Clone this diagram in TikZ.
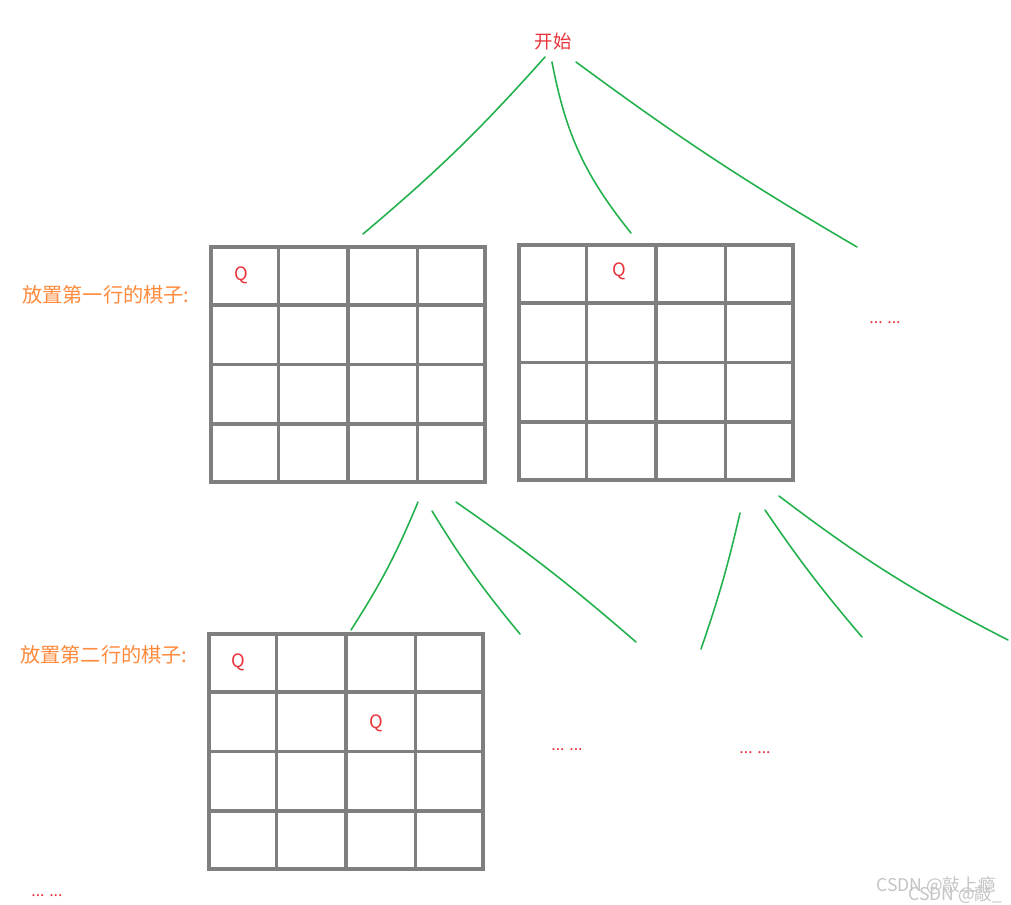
\documentclass[tikz,border=0pt]{standalone}
\usepackage{fontspec}
\setmainfont{Noto Sans CJK SC}
\usetikzlibrary{positioning,calc}
\definecolor{boardgray}{HTML}{7F7F7F}
\definecolor{queenred}{HTML}{E8333B}
\definecolor{labelorange}{HTML}{FF8A3D}
\definecolor{treegreen}{HTML}{22B14C}
\definecolor{markgray}{HTML}{C4C4C4}

\tikzset{
  board/.style={draw=boardgray, line width=2.1pt, minimum width=5.48cm, minimum height=4.7cm, inner sep=0pt},
  boardline/.style={boardgray, line width=2.1pt},
  queen/.style={text=queenred, font=\fontsize{10.5}{12}\selectfont},
  rowlabel/.style={text=labelorange, font=\fontsize{11.5}{13}\selectfont, anchor=west, inner sep=0pt},
  branch/.style={treegreen, line width=0.9pt, line cap=round},
  more/.style={text=queenred, font=\fontsize{9}{11}\selectfont}
}

\begin{document}
\begin{tikzpicture}[x=0.02cm, y=-0.02cm]
\useasboundingbox (0,0) rectangle (1011,904);

% root
\node[text=queenred, font=\fontsize{10.5}{12}\selectfont] (start) at (553,42) {开始};

% boards
\node[board] (b1) at (348,364.5) {};
\node[board] (b2) at (656,362.5) {};
\node[board] (b3) at (346,751.5) {};
\foreach \b in {b1,b2,b3} {
  \foreach \k in {1,2,3} {
    \draw[boardline] ($(\b.north west)!\k/4!(\b.north east)$) -- ($(\b.south west)!\k/4!(\b.south east)$);
    \draw[boardline] ($(\b.north west)!\k/4!(\b.south west)$) -- ($(\b.north east)!\k/4!(\b.south east)$);
  }
}

% queens
\node[queen] (q1) at ($(b1.north west)+(32,30)$) {Q};
\node[queen] (q2) at ($(b2.north west)+(102,28)$) {Q};
\node[queen] (q3) at ($(b3.north west)+(31,30)$) {Q};
\node[queen] (q4) at ($(b3.north west)+(169,91)$) {Q};

% labels
\node[rowlabel] (row1) at (22,295) {放置第一行的棋子:};
\node[rowlabel] (row2) at (20,655) {放置第二行的棋子:};

% branch ends
\coordinate (t1) at (545,57);
\coordinate (t2) at (552,62);
\coordinate (t3) at (576,62);
\coordinate (e1) at (363,234);
\coordinate (e2) at (631,233);
\coordinate (e3) at (857,247);
\coordinate (s1) at (418,502);
\coordinate (s2) at (432,511);
\coordinate (s3) at (456,502);
\coordinate (f1) at (351,630);
\coordinate (f2) at (520,634);
\coordinate (f3) at (636,642);
\coordinate (u1) at (740,513);
\coordinate (u2) at (765,510);
\coordinate (u3) at (779,496);
\coordinate (g1) at (701,649);
\coordinate (g2) at (862,637);
\coordinate (g3) at (1008,640);

% branches
\draw[branch] (t1) to[bend left=4] (e1);
\draw[branch] (t2) to[bend right=14] (e2);
\draw[branch] (t3) to[bend right=3] (e3);
\draw[branch] (s1) to[bend left=5] (f1);
\draw[branch] (s2) to[bend right=4] (f2);
\draw[branch] (s3) to[bend left=3] (f3);
\draw[branch] (u1) to[bend left=3] (g1);
\draw[branch] (u2) to[bend right=3] (g2);
\draw[branch] (u3) to[bend right=5] (g3);

% more
\node[more] (m1) at (885,323) {... ...};
\node[more] (m2) at (567,750) {... ...};
\node[more] (m3) at (755,753) {... ...};
\node[more] (m4) at (47,896) {... ...};

% watermark
\node[text=markgray, font=\fontsize{10}{12}\selectfont, anchor=west, inner sep=0pt] (wm1) at (876,886) {CSDN @敲上瘾};
\node[text=markgray, font=\fontsize{10}{12}\selectfont, anchor=west, inner sep=0pt] (wm2) at (908,895) {CSDN @敲\_};
\end{tikzpicture}
\end{document}
